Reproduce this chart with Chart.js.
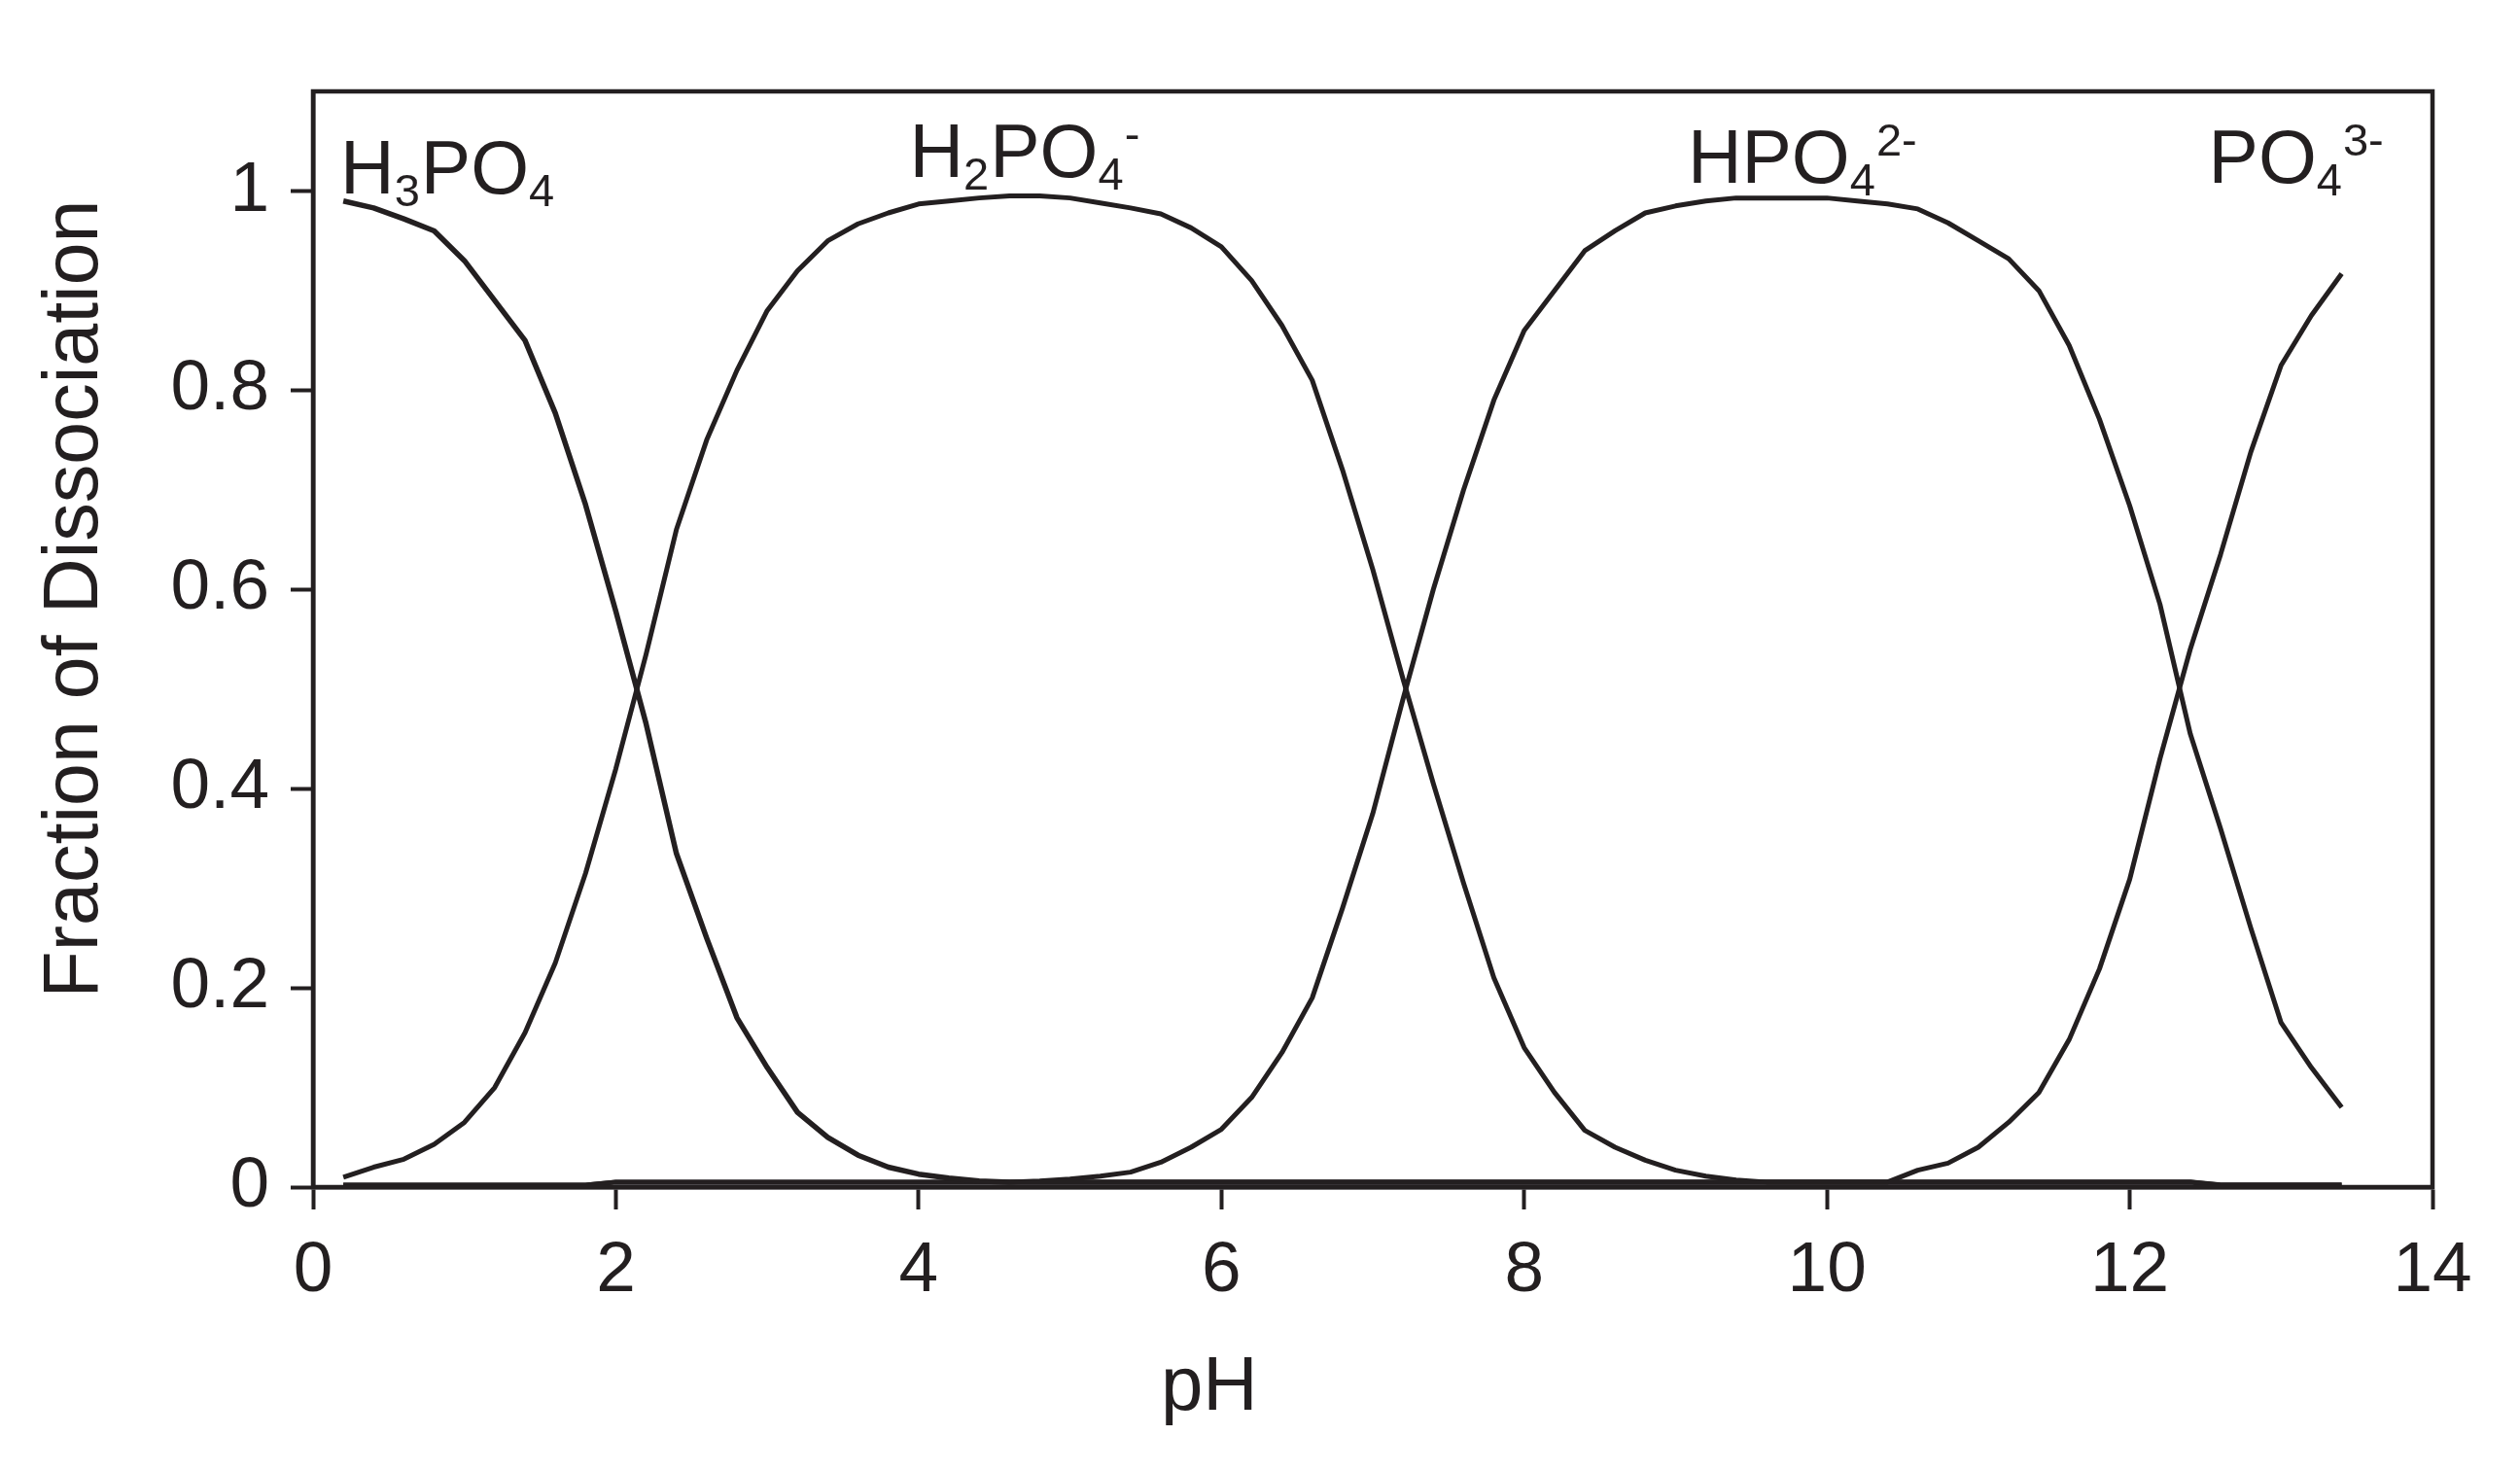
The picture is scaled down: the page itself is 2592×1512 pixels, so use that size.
<!DOCTYPE html>
<html>
<head>
<meta charset="utf-8">
<script src="https://cdn.jsdelivr.net/npm/chart.js@4.4.1/dist/chart.umd.min.js"></script>
<style>
  html, body { margin: 0; padding: 0; background: #ffffff; }
  #wrap { width: 2592px; height: 1512px; }
</style>
</head>
<body>
<div id="wrap"><canvas id="c" width="2592" height="1512"></canvas></div>
<script>
// ---- data ----
const phValues = [0.2,0.4,0.6,0.8,1.0,1.2,1.4,1.6,1.8,2.0,2.2,2.4,2.6,2.8,3.0,3.2,3.4,3.6,3.8,4.0,4.2,4.4,4.6,4.8,5.0,5.2,5.4,5.6,5.8,6.0,6.2,6.4,6.6,6.8,7.0,7.2,7.4,7.6,7.8,8.0,8.2,8.4,8.6,8.8,9.0,9.2,9.4,9.6,9.8,10.0,10.2,10.4,10.6,10.8,11.0,11.2,11.4,11.6,11.8,12.0,12.2,12.4,12.6,12.8,13.0,13.2,13.4];

const h3po4 = [0.99,0.983,0.972,0.96,0.93,0.89,0.85,0.777,0.685,0.578,0.465,0.335,0.25,0.17,0.12,0.075,0.05,0.032,0.02,0.013,0.009,0.006,0.005,0.005,0.005,0.005,0.005,0.005,0.005,0.005,0.005,0.005,0.005,0.005,0.005,0.005,0.005,0.005,0.005,0.005,0.005,0.005,0.005,0.005,0.005,0.005,0.005,0.005,0.005,0.005,0.005,0.005,0.005,0.005,0.005,0.005,0.005,0.005,0.005,0.005,0.005,0.005,0.002,0.002,0.002,0.002,0.002];

const h2po4 = [0.01,0.02,0.028,0.043,0.065,0.1,0.155,0.225,0.315,0.42,0.535,0.66,0.75,0.82,0.88,0.92,0.95,0.967,0.978,0.987,0.99,0.993,0.995,0.995,0.993,0.988,0.983,0.977,0.963,0.944,0.91,0.865,0.81,0.72,0.62,0.51,0.405,0.305,0.21,0.14,0.095,0.057,0.04,0.027,0.017,0.011,0.007,0.005,0.005,0.005,0.005,0.005,0.005,0.005,0.005,0.005,0.005,0.005,0.005,0.005,0.005,0.005,0.002,0.002,0.002,0.002,0.002];

const hpo4 = [0.002,0.002,0.002,0.002,0.002,0.002,0.002,0.002,0.002,0.005,0.005,0.005,0.005,0.005,0.005,0.005,0.005,0.005,0.005,0.005,0.005,0.005,0.005,0.006,0.008,0.011,0.015,0.025,0.04,0.058,0.09,0.135,0.19,0.28,0.375,0.49,0.6,0.7,0.79,0.86,0.9,0.94,0.96,0.978,0.985,0.99,0.993,0.993,0.993,0.993,0.99,0.987,0.982,0.968,0.95,0.932,0.9,0.845,0.771,0.684,0.585,0.455,0.36,0.26,0.165,0.12,0.08];

const po4 = [0.002,0.002,0.002,0.002,0.002,0.002,0.002,0.002,0.002,0.005,0.005,0.005,0.005,0.005,0.005,0.005,0.005,0.005,0.005,0.005,0.005,0.005,0.005,0.005,0.005,0.005,0.005,0.005,0.005,0.005,0.005,0.005,0.005,0.005,0.005,0.005,0.005,0.005,0.005,0.005,0.005,0.005,0.005,0.005,0.005,0.005,0.005,0.005,0.005,0.005,0.005,0.005,0.017,0.024,0.04,0.065,0.095,0.148,0.219,0.309,0.43,0.54,0.635,0.738,0.825,0.875,0.917];

const xTicks = [0,2,4,6,8,10,12,14];
const yTicks = [0,0.2,0.4,0.6,0.8,1];

// species labels: text pieces (n = normal, sub, sup) and anchor in data space
const speciesLabels = [
  { parts: [['H','n'],['3','sub'],['PO','n'],['4','sub']], x: 0.18, y: 0.998 },
  { parts: [['H','n'],['2','sub'],['PO','n'],['4','sub'],['-','sup']], x: 3.94, y: 1.014 },
  { parts: [['HPO','n'],['4','sub'],['2-','sup']], x: 9.08, y: 1.008 },
  { parts: [['PO','n'],['4','sub'],['3-','sup']], x: 12.52, y: 1.008 }
];
const xTitle = 'pH';
const yTitle = 'Fraction of Dissociation';

// ---- drawing ----
const INK = '#231f20';
const FONT = '"Liberation Sans", Arial, Helvetica, sans-serif';

function pts(arr) { return phValues.map((x, i) => ({ x: x, y: arr[i] })); }
function ds(arr, w) {
  return { data: pts(arr), borderColor: INK, borderWidth: w, pointRadius: 0, tension: 0, fill: false, clip: false, borderJoinStyle: 'round' };
}

const decorPlugin = {
  id: 'decor',
  afterDatasetsDraw(chart) {
    const ctx = chart.ctx;
    const a = chart.chartArea;
    const xs = chart.scales.x, ys = chart.scales.y;
    ctx.save();
    // plot frame
    ctx.strokeStyle = INK;
    ctx.lineWidth = 4.5;
    ctx.strokeRect(a.left, a.top, a.right - a.left, a.bottom - a.top);

    // species labels
    ctx.fillStyle = INK;
    ctx.textBaseline = 'alphabetic';
    ctx.textAlign = 'left';
    speciesLabels.forEach(l => {
      let px = xs.getPixelForValue(l.x);
      const py = ys.getPixelForValue(l.y);
      l.parts.forEach(([t, k]) => {
        let size = 77, dy = 0;
        if (k === 'sub') { size = 47; dy = 13; }
        if (k === 'sup') { size = 47; dy = -28; }
        ctx.font = size + 'px ' + FONT;
        ctx.fillText(t, px, py + dy);
        px += ctx.measureText(t).width + (k === 'n' ? 0 : 1);
      });
    });

    // axis titles
    ctx.font = '78px ' + FONT;
    ctx.textAlign = 'center';
    ctx.textBaseline = 'middle';
    ctx.fillText(xTitle, xs.getPixelForValue(5.92), 1428);
    ctx.font = '79px ' + FONT;
    ctx.translate(78, 616);
    ctx.rotate(-Math.PI / 2);
    ctx.fillText(yTitle, 0, 0);
    ctx.restore();
  }
};

new Chart(document.getElementById('c'), {
  type: 'line',
  data: {
    datasets: [ds(h3po4, 5.5), ds(h2po4, 5), ds(hpo4, 5), ds(po4, 5)]
  },
  options: {
    responsive: false,
    animation: false,
    devicePixelRatio: 1,
    layout: { padding: { top: 94, right: 90, left: 0, bottom: 0 } },
    plugins: { legend: { display: false }, tooltip: { enabled: false } },
    scales: {
      x: {
        type: 'linear', min: 0, max: 14,
        afterBuildTicks: s => { s.ticks = xTicks.map(v => ({ value: v })); },
        afterFit: s => { s.height = 291; },
        ticks: { color: INK, font: { family: FONT, size: 73 }, padding: 20, maxRotation: 0, callback: v => String(v) },
        grid: { drawOnChartArea: false, drawTicks: true, tickLength: 23, tickWidth: 4, tickColor: INK },
        border: { display: true, color: INK, width: 4.5 }
      },
      y: {
        type: 'linear', min: 0, max: 1.1,
        afterBuildTicks: s => { s.ticks = yTicks.map(v => ({ value: v })); },
        afterFit: s => { s.width = 322; },
        ticks: { color: INK, font: { family: FONT, size: 73 }, padding: 22, callback: v => String(v) },
        grid: { drawOnChartArea: false, drawTicks: true, tickLength: 23, tickWidth: 4, tickColor: INK },
        border: { display: true, color: INK, width: 4.5 }
      }
    }
  },
  plugins: [decorPlugin]
});
</script>
</body>
</html>
